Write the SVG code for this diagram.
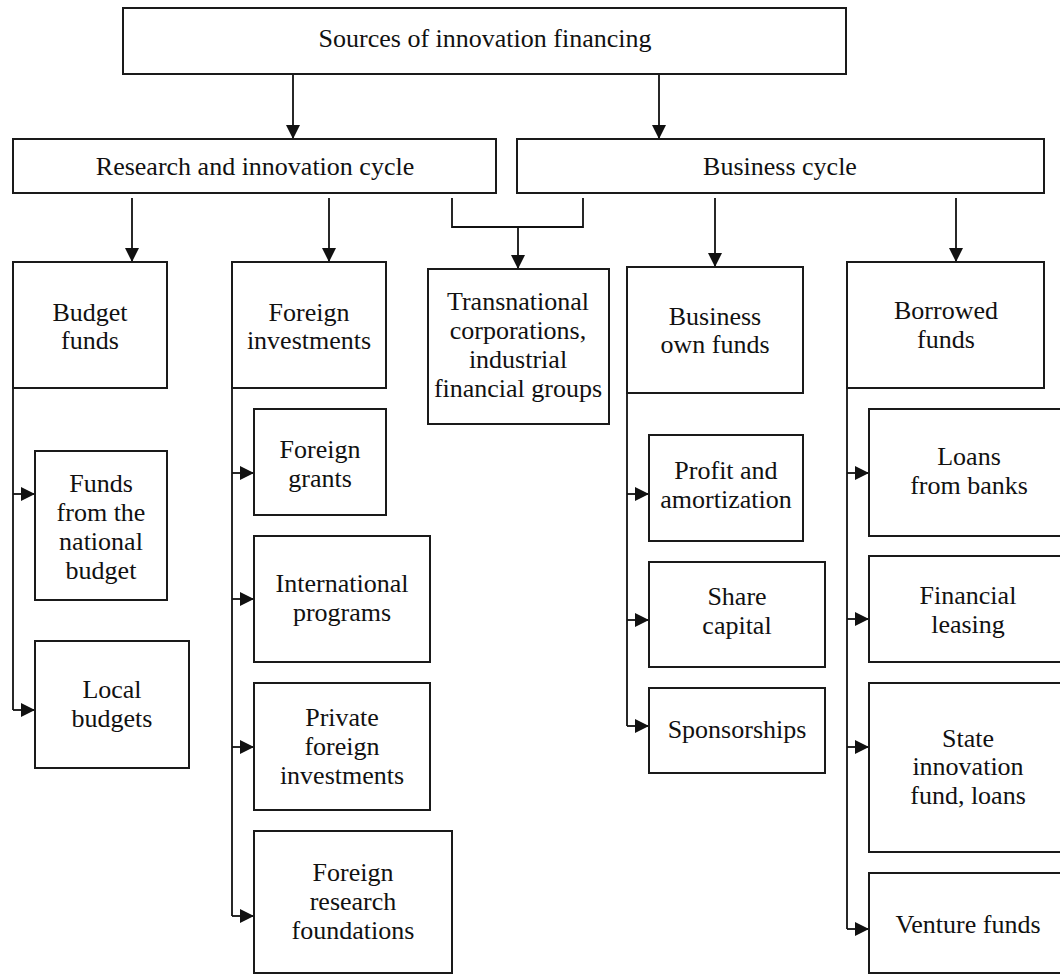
<svg xmlns="http://www.w3.org/2000/svg" width="1060" height="976" viewBox="0 0 1060 976">
<style>
.box{fill:#fff;stroke:#1a1a1a;stroke-width:2}
.t{font-family:"Liberation Serif","Times New Roman",serif;font-size:26px;fill:#111;text-anchor:middle}
.c{fill:none;stroke:#111;stroke-width:1.8}
</style>
<defs>
<marker id="ah" markerUnits="userSpaceOnUse" markerWidth="14" markerHeight="14" refX="14" refY="7" orient="auto">
<path d="M0,0 L14,7 L0,14 z" fill="#111"/>
</marker>
</defs>
<rect width="1060" height="976" fill="#fff"/>
<g id="connectors">
<path class="c" d="M293,74 V139" marker-end="url(#ah)"/>
<path class="c" d="M659,74 V139" marker-end="url(#ah)"/>
<path class="c" d="M132,198 V262" marker-end="url(#ah)"/>
<path class="c" d="M329,198 V262" marker-end="url(#ah)"/>
<path class="c" d="M452,198 V227 H583 V198"/>
<path class="c" d="M518,227 V269" marker-end="url(#ah)"/>
<path class="c" d="M715,198 V267" marker-end="url(#ah)"/>
<path class="c" d="M956,198 V262" marker-end="url(#ah)"/>
<path class="c" d="M13,388 V710"/>
<path class="c" d="M13,494 H35" marker-end="url(#ah)"/>
<path class="c" d="M13,710 H35" marker-end="url(#ah)"/>
<path class="c" d="M232,388 V916"/>
<path class="c" d="M232,473 H254" marker-end="url(#ah)"/>
<path class="c" d="M232,599 H254" marker-end="url(#ah)"/>
<path class="c" d="M232,747 H254" marker-end="url(#ah)"/>
<path class="c" d="M232,916 H254" marker-end="url(#ah)"/>
<path class="c" d="M627,393 V726"/>
<path class="c" d="M627,494 H649" marker-end="url(#ah)"/>
<path class="c" d="M627,620 H649" marker-end="url(#ah)"/>
<path class="c" d="M627,726 H649" marker-end="url(#ah)"/>
<path class="c" d="M847,388 V929"/>
<path class="c" d="M847,473 H869" marker-end="url(#ah)"/>
<path class="c" d="M847,619 H869" marker-end="url(#ah)"/>
<path class="c" d="M847,747 H869" marker-end="url(#ah)"/>
<path class="c" d="M847,929 H869" marker-end="url(#ah)"/>
</g>
<g id="sources"><rect class="box" x="123" y="8" width="723" height="66"/><text class="t" x="485" y="47">Sources of innovation financing</text></g>
<g id="research"><rect class="box" x="13" y="139" width="483" height="54"/><text class="t" x="255" y="175">Research and innovation cycle</text></g>
<g id="business"><rect class="box" x="517" y="139" width="527" height="54"/><text class="t" x="780" y="175">Business cycle</text></g>
<g id="budget"><rect class="box" x="13" y="262" width="154" height="126"/><text class="t" x="90" y="321">Budget</text><text class="t" x="90" y="349">funds</text></g>
<g id="national"><rect class="box" x="35" y="451" width="132" height="149"/><text class="t" x="101" y="492">Funds</text><text class="t" x="101" y="521">from the</text><text class="t" x="101" y="550">national</text><text class="t" x="101" y="579">budget</text></g>
<g id="local"><rect class="box" x="35" y="641" width="154" height="127"/><text class="t" x="112" y="698">Local</text><text class="t" x="112" y="727">budgets</text></g>
<g id="foreign"><rect class="box" x="232" y="262" width="154" height="126"/><text class="t" x="309" y="321">Foreign</text><text class="t" x="309" y="349">investments</text></g>
<g id="grants"><rect class="box" x="254" y="409" width="132" height="106"/><text class="t" x="320" y="458">Foreign</text><text class="t" x="320" y="487">grants</text></g>
<g id="intl"><rect class="box" x="254" y="536" width="176" height="126"/><text class="t" x="342" y="592">International</text><text class="t" x="342" y="621">programs</text></g>
<g id="private"><rect class="box" x="254" y="683" width="176" height="127"/><text class="t" x="342" y="726">Private</text><text class="t" x="342" y="755">foreign</text><text class="t" x="342" y="784">investments</text></g>
<g id="foundations"><rect class="box" x="254" y="831" width="198" height="142"/><text class="t" x="353" y="881">Foreign</text><text class="t" x="353" y="910">research</text><text class="t" x="353" y="939">foundations</text></g>
<g id="transnational"><rect class="box" x="428" y="269" width="181" height="155"/><text class="t" x="518" y="310">Transnational</text><text class="t" x="518" y="339">corporations,</text><text class="t" x="518" y="368">industrial</text><text class="t" x="518" y="397">financial groups</text></g>
<g id="own"><rect class="box" x="627" y="267" width="176" height="126"/><text class="t" x="715" y="325">Business</text><text class="t" x="715" y="353">own funds</text></g>
<g id="profit"><rect class="box" x="649" y="435" width="154" height="106"/><text class="t" x="726" y="479">Profit and</text><text class="t" x="726" y="508">amortization</text></g>
<g id="share"><rect class="box" x="649" y="562" width="176" height="105"/><text class="t" x="737" y="605">Share</text><text class="t" x="737" y="634">capital</text></g>
<g id="sponsor"><rect class="box" x="649" y="688" width="176" height="85"/><text class="t" x="737" y="738">Sponsorships</text></g>
<g id="borrowed"><rect class="box" x="847" y="262" width="197" height="126"/><text class="t" x="946" y="319">Borrowed</text><text class="t" x="946" y="348">funds</text></g>
<g id="loans"><rect class="box" x="869" y="409" width="200" height="127"/><text class="t" x="969" y="465">Loans</text><text class="t" x="969" y="494">from banks</text></g>
<g id="leasing"><rect class="box" x="869" y="556" width="200" height="106"/><text class="t" x="968" y="604">Financial</text><text class="t" x="968" y="633">leasing</text></g>
<g id="state"><rect class="box" x="869" y="683" width="200" height="169"/><text class="t" x="968" y="747">State</text><text class="t" x="968" y="775">innovation</text><text class="t" x="968" y="804">fund, loans</text></g>
<g id="venture"><rect class="box" x="869" y="873" width="200" height="100"/><text class="t" x="968" y="933">Venture funds</text></g>
</svg>
